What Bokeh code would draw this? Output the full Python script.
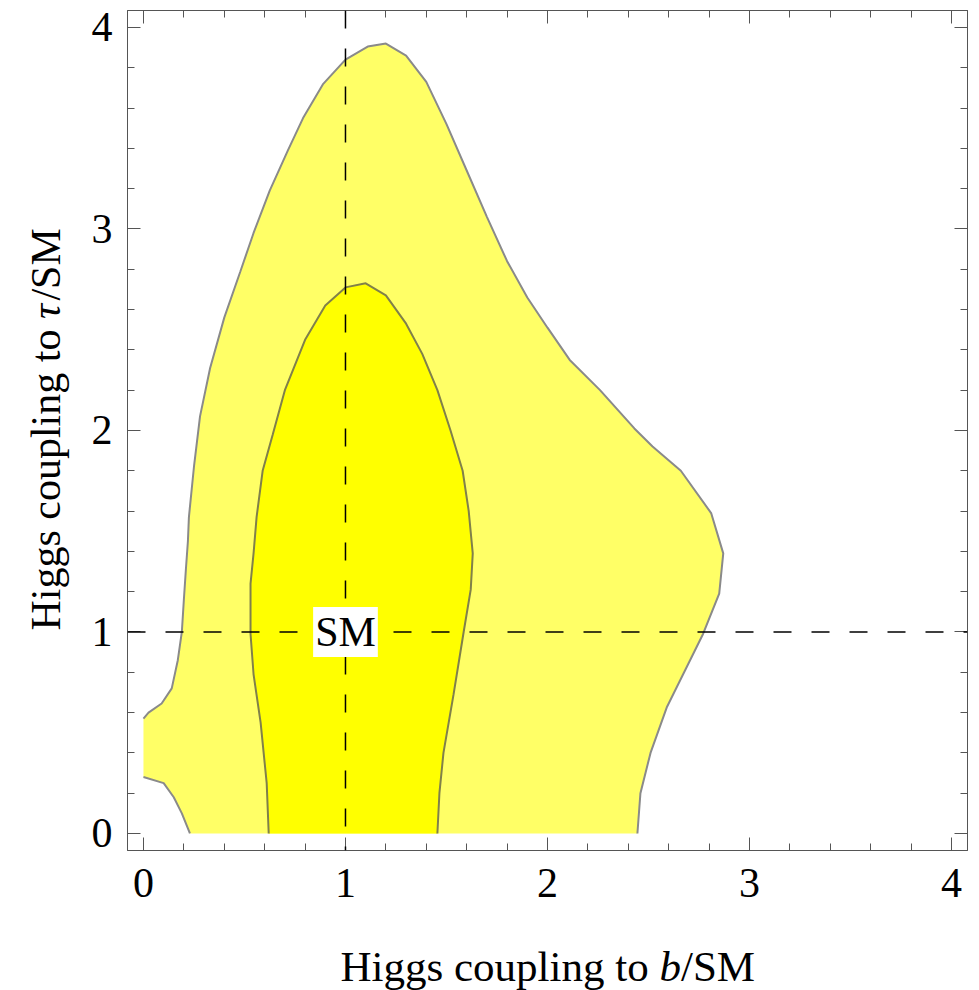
import math
from bokeh.plotting import figure
from bokeh.layouts import column, row
from bokeh.models import (Range1d, LinearAxis, SingleIntervalTicker, Span, Label,
                          CustomJSTickFormatter)
from bokeh.core.properties import value
from bokeh.embed import file_html
from bokeh.resources import INLINE

# ---------------- data ----------------
# outer (light) region boundary: lower-left piece and main piece
outer_low_x = [0.23, 0.19, 0.15, 0.10, 0.0]
outer_low_y = [0.0, 0.10, 0.18, 0.25, 0.28]

outer_x = [0.0, 0.025, 0.09, 0.14, 0.17, 0.19, 0.20, 0.21, 0.22, 0.225, 0.25, 0.28, 0.33,
           0.40, 0.48, 0.545, 0.625, 0.715, 0.79, 0.89, 1.0, 1.11, 1.20, 1.30, 1.40, 1.50,
           1.60, 1.70, 1.80, 1.90, 2.0, 2.11, 2.26, 2.43, 2.52, 2.66, 2.81, 2.87, 2.85,
           2.77, 2.59, 2.51, 2.46, 2.445]
outer_y = [0.57, 0.60, 0.645, 0.72, 0.86, 1.0, 1.16, 1.31, 1.45, 1.57, 1.82, 2.07, 2.31,
           2.56, 2.79, 2.98, 3.19, 3.39, 3.55, 3.72, 3.84, 3.905, 3.92, 3.86, 3.73, 3.52,
           3.29, 3.06, 2.84, 2.66, 2.51, 2.35, 2.20, 2.01, 1.92, 1.80, 1.59, 1.39, 1.19,
           0.99, 0.625, 0.40, 0.20, 0.0]

# inner (saturated) region boundary
inner_x = [0.62, 0.61, 0.58, 0.545, 0.53, 0.53, 0.545, 0.56, 0.59, 0.64, 0.70, 0.80, 0.90,
           1.0, 1.10, 1.20, 1.30, 1.38, 1.455, 1.52, 1.58, 1.61, 1.63, 1.62, 1.585, 1.535,
           1.485, 1.465, 1.455]
inner_y = [0.0, 0.25, 0.55, 0.79, 0.99, 1.24, 1.39, 1.57, 1.80, 1.98, 2.20, 2.45, 2.62,
           2.71, 2.73, 2.67, 2.53, 2.38, 2.20, 2.0, 1.80, 1.60, 1.39, 1.21, 1.0, 0.69,
           0.40, 0.20, 0.0]

sm_point = (1.0, 1.0)

xlabel_parts = ["Higgs coupling to ", "b", "/SM"]
ylabel_parts = ["Higgs coupling to ", "τ", "/SM"]

FONT = "Liberation Serif"

YLAB_W = 70
MAIN_W, MAIN_H = 909, 920
XLAB_H = 70
X_RANGE = (-0.079, 4.079)
Y_RANGE = (-0.0844, 4.084)

p = figure(width=MAIN_W, height=MAIN_H, output_backend="svg", toolbar_location=None,
           title=None, x_range=Range1d(*X_RANGE), y_range=Range1d(*Y_RANGE),
           min_border_left=57, min_border_right=12, min_border_top=10,
           min_border_bottom=70, x_axis_location=None, y_axis_location=None)
p.xgrid.visible = False
p.ygrid.visible = False
p.outline_line_color = "#555555"
p.background_fill_color = "white"
p.border_fill_color = "white"

# ---------------- filled regions ----------------
outer_poly_x = [0.0] + outer_x + outer_low_x
outer_poly_y = [0.28] + outer_y + outer_low_y
p.patch(outer_poly_x, outer_poly_y, fill_color="#ffff66", line_color=None)
p.patch(inner_x, inner_y, fill_color="#ffff00", line_color=None)

p.line(outer_low_x, outer_low_y, line_color="#8a8a8a", line_width=2)
p.line(outer_x, outer_y, line_color="#8a8a8a", line_width=2)
p.line(inner_x, inner_y, line_color="#80804a", line_width=2)

# ---------------- dashed reference lines ----------------
p.add_layout(Span(location=sm_point[1], dimension="width", line_color="black",
                  line_width=1.5, line_dash="18 20"))
p.add_layout(Span(location=sm_point[0], dimension="height", line_color="black",
                  line_width=1.5, line_dash="18 20"))

p.add_layout(Label(x=sm_point[0], y=sm_point[1], text="SM", text_font=FONT,
                   text_font_size="42px", text_align="center", text_baseline="middle",
                   text_color="black", background_fill_color="white", padding=2))

# ---------------- axes ----------------
def style_axis(ax, labels=True):
    ax.ticker = SingleIntervalTicker(interval=1, num_minor_ticks=5)
    ax.axis_line_color = "#555555"
    ax.major_tick_line_color = "#555555"
    ax.minor_tick_line_color = "#555555"
    ax.major_tick_in = 13
    ax.major_tick_out = 0
    ax.minor_tick_in = 7
    ax.minor_tick_out = 0
    if labels:
        ax.major_label_text_font = FONT
        ax.major_label_text_font_size = "42px"
        ax.major_label_text_color = "black"
    else:
        ax.formatter = CustomJSTickFormatter(code="return ''")
        ax.major_label_text_font_size = "0px"
        ax.major_label_standoff = 0

xb = LinearAxis()
style_axis(xb)
xb.major_label_standoff = 18
p.add_layout(xb, "below")
yl = LinearAxis()
style_axis(yl)
yl.major_label_standoff = 15
p.add_layout(yl, "left")
xt = LinearAxis()
style_axis(xt, labels=False)
p.add_layout(xt, "above")
yr = LinearAxis()
style_axis(yr, labels=False)
p.add_layout(yr, "right")

# ---------------- axis titles (mixed italic) in text-only figures ----------------
TSX = 43
TSY = 42
widths_x = [7.417 * TSX, 0.5 * TSX]
widths_y = [7.417 * TSY, 0.44 * TSY]
PPU_Y = 840 / (Y_RANGE[1] - Y_RANGE[0])
BASE_SHIFT = 12  # text glyph anchor sits this far above/left of the drawn baseline


def blank_fig(w, h, x_range, y_range, **borders):
    f = figure(width=w, height=h, output_backend="svg", toolbar_location=None, title=None,
               x_range=x_range, y_range=y_range, x_axis_location=None,
               y_axis_location=None, **borders)
    f.xgrid.visible = False
    f.ygrid.visible = False
    f.outline_line_color = None
    f.border_fill_color = "white"
    f.background_fill_color = "white"
    return f


# y title: rotated, shares the main plot's y scale (same top/bottom borders)
py = blank_fig(YLAB_W, MAIN_H, Range1d(0, YLAB_W), p.y_range,
               min_border_left=0, min_border_right=0, min_border_top=10,
               min_border_bottom=70)
y0 = 1.007
ys = [y0, y0 + widths_y[0] / PPU_Y, y0 + (widths_y[0] + widths_y[1]) / PPU_Y]
for i, (t, yy) in enumerate(zip(ylabel_parts, ys)):
    py.text(x=[45], y=[yy], text=[t], text_font=value(FONT), angle=math.pi / 2,
            text_font_style="italic" if i == 1 else "normal",
            text_font_size=f"{TSY}px", text_color="black",
            text_align="left", text_baseline="alphabetic")

# x title: pixel coordinates within a 979x70 strip; baseline at canvas y=978
px = blank_fig(YLAB_W + MAIN_W, XLAB_H, Range1d(0, YLAB_W + MAIN_W), Range1d(0, XLAB_H),
               min_border=0)
x0 = 340
base_y = XLAB_H - (978 - MAIN_H) + BASE_SHIFT
xs = [x0, x0 + widths_x[0], x0 + widths_x[0] + widths_x[1]]
for i, (t, xx) in enumerate(zip(xlabel_parts, xs)):
    px.text(x=[xx], y=[base_y], text=[t], text_font=value(FONT),
            text_font_style="italic" if i == 1 else "normal",
            text_font_size=f"{TSX}px", text_color="black",
            text_align="left", text_baseline="alphabetic")

layout = column(row(py, p, spacing=0), px, spacing=0)
open("out.html", "w").write(file_html(layout, INLINE))
